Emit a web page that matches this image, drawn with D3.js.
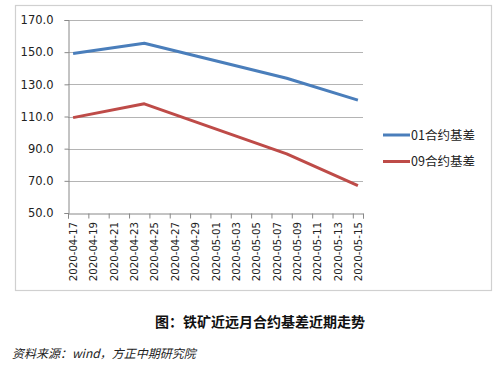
<!DOCTYPE html>
<html><head><meta charset="utf-8">
<script src="https://cdn.jsdelivr.net/npm/d3@7/dist/d3.min.js"></script>
<style>body{margin:0;background:#fff;}svg{display:block;}</style>
</head><body>
<script>
const dates = ["2020-04-17","2020-04-24","2020-05-08","2020-05-15"];
const basis01 = [149.2, 155.5, 133.8, 120.2];
const basis09 = [109.3, 117.9, 86.8, 67.0];
const seriesNames = ["01合约基差","09合约基差"];
const yTicks = [50,70,90,110,130,150,170];
const xTickLabels = ["2020-04-17","2020-04-19","2020-04-21","2020-04-23","2020-04-25","2020-04-27","2020-04-29","2020-05-01","2020-05-03","2020-05-05","2020-05-07","2020-05-09","2020-05-11","2020-05-13","2020-05-15"];
const title = "图：铁矿近远月合约基差近期走势";
const source = "资料来源：wind，方正中期研究院";

const W=500,H=369;
const svg=d3.select("body").append("svg").attr("width",W).attr("height",H);
svg.append("rect").attr("x",15.5).attr("y",5.5).attr("width",476).attr("height",285)
  .attr("fill","#fff").attr("stroke","#d0d0d0").attr("stroke-width",1.2);

const parse=d3.utcParse("%Y-%m-%d");
const DAY=864e5;
const x=d3.scaleUtc().domain([parse("2020-04-17"), new Date(+parse("2020-05-15")+DAY)]).range([68,363]);
const y=d3.scaleLinear().domain([50,170]).range([213,20]);
const mid=d=>x(new Date(+parse(d)+DAY/2));

// gridlines
svg.append("g").selectAll("line").data(yTicks.slice(1)).join("line")
  .attr("x1",68).attr("x2",363).attr("y1",d=>Math.round(y(d))+0.5).attr("y2",d=>Math.round(y(d))+0.5)
  .attr("stroke","#b4b4b4").attr("stroke-width",1);

// y axis
const ya=svg.append("g").attr("transform","translate(68.5,0)")
  .call(d3.axisLeft(y).tickValues(yTicks).tickFormat(d3.format(".1f")).tickSize(4).tickPadding(11));
ya.select(".domain").attr("stroke","#888");
ya.selectAll(".tick line").attr("stroke","#888");
ya.selectAll("text").attr("font-family","DejaVu Sans, Verdana, sans-serif").attr("font-size",11.5).attr("fill","#222");

// x axis
const tickDates=d3.range(0,29,2).map(i=>new Date(+parse("2020-04-17")+i*DAY)).concat([new Date(+parse("2020-05-15")+DAY)]);
const xa=svg.append("g").attr("transform","translate(0,213.5)")
  .call(d3.axisBottom(x).tickValues(tickDates).tickFormat("").tickSize(5));
xa.select(".domain").attr("stroke","#888");
xa.selectAll(".tick line").attr("stroke","#888");
svg.append("g").selectAll("text").data(xTickLabels).join("text")
  .attr("transform",d=>`translate(${mid(d)+4},222) rotate(-90)`)
  .attr("text-anchor","end")
  .attr("font-family","DejaVu Sans, Verdana, sans-serif").attr("font-size",10.2).attr("fill","#222")
  .text(d=>d);

// lines
const colors=["#4a7ebb","#be4b48"];
const line=d3.line().x(d=>mid(d[0])).y(d=>y(d[1]));
[basis01,basis09].forEach((vals,i)=>{
  svg.append("path").datum(dates.map((d,j)=>[d,vals[j]]))
    .attr("d",line).attr("fill","none").attr("stroke",colors[i]).attr("stroke-width",3)
    .attr("stroke-linejoin","round");
});

// legend
seriesNames.forEach((n,i)=>{
  const ly=135+i*26.5;
  svg.append("line").attr("x1",383).attr("x2",410).attr("y1",ly).attr("y2",ly)
    .attr("stroke",colors[i]).attr("stroke-width",3);
  svg.append("text").attr("x",411).attr("y",ly+4.5)
    .attr("font-family","Noto Sans CJK SC, sans-serif").attr("font-size",12.5).attr("fill","#222").text(n);
});

// title + source
svg.append("text").attr("x",260).attr("y",327).attr("text-anchor","middle")
  .attr("font-family","Noto Sans CJK SC, sans-serif").attr("font-weight","bold").attr("font-size",14).attr("fill","#111").text(title);
svg.append("text").attr("x",12).attr("y",358)
  .attr("font-family","Noto Sans CJK SC, sans-serif").attr("font-style","italic").attr("font-size",12).attr("fill","#222").text(source);
</script>
</body></html>
